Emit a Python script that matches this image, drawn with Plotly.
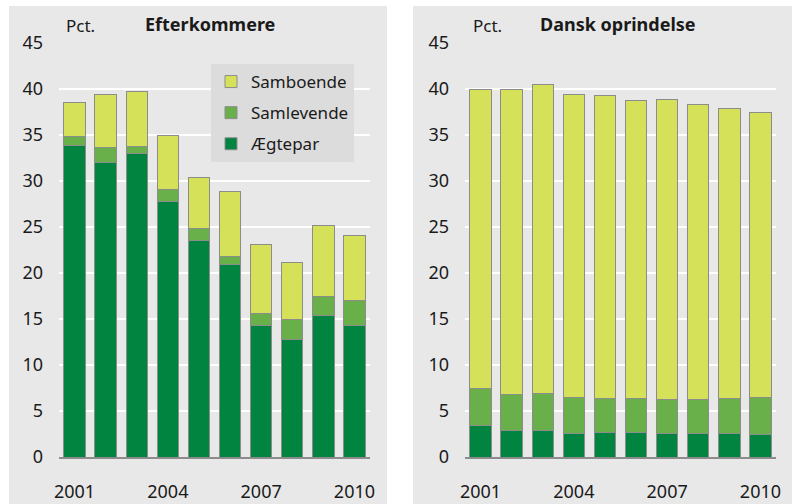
import plotly.graph_objects as go

years = [str(y) for y in range(2001, 2011)]
tick_years = ["2001", "2004", "2007", "2010"]

# Efterkommere
eft_aegtepar = [33.9, 32.0, 33.0, 27.8, 23.5, 20.9, 14.3, 12.8, 15.4, 14.3]
eft_samlevende = [0.9, 1.6, 0.8, 1.3, 1.3, 0.9, 1.3, 2.1, 2.0, 2.7]
eft_samboende = [3.7, 5.8, 5.9, 5.9, 5.6, 7.1, 7.5, 6.2, 7.8, 7.1]

# Dansk oprindelse
dk_aegtepar = [3.4, 2.9, 2.9, 2.6, 2.65, 2.65, 2.6, 2.55, 2.6, 2.45]
dk_samlevende = [4.1, 3.9, 4.0, 3.9, 3.75, 3.75, 3.7, 3.7, 3.8, 4.05]
dk_samboende = [32.5, 33.1, 33.6, 32.9, 32.9, 32.4, 32.6, 32.05, 31.5, 30.9]

y_ticks = [0, 5, 10, 15, 20, 25, 30, 35, 40, 45]

C_AEG = "#00843f"
C_SAML = "#69b04b"
C_SAMB = "#d6e15a"
OUTLINE = "#8c8c8c"
FONT = "Noto Sans"

W, H = 792, 504
def px_x(v):
    return v / W
def px_y(v):
    return 1 - v / H

fig = go.Figure()

series = [("Ægtepar", C_AEG, eft_aegtepar, dk_aegtepar, 3),
          ("Samlevende", C_SAML, eft_samlevende, dk_samlevende, 2),
          ("Samboende", C_SAMB, eft_samboende, dk_samboende, 1)]

for name, col, left_vals, right_vals, rank in series:
    fig.add_trace(go.Bar(x=years, y=left_vals, name=name, legendgroup=name, legendrank=rank,
                         marker=dict(color=col, line=dict(color=OUTLINE, width=1)),
                         xaxis="x", yaxis="y", showlegend=True))
    fig.add_trace(go.Bar(x=years, y=right_vals, name=name, legendgroup=name, legendrank=rank,
                         marker=dict(color=col, line=dict(color=OUTLINE, width=1)),
                         xaxis="x2", yaxis="y2", showlegend=False))

xcommon = dict(type="category", tickmode="array", tickvals=tick_years, ticktext=tick_years,
               showgrid=False, showline=True, linecolor="#8c8c8c", linewidth=2,
               ticks="", ticklabelstandoff=17, range=[-0.5, 9.5], automargin=False,
               tickfont=dict(family=FONT, size=18, color="#1a1a1a"), fixedrange=True)
ycommon = dict(range=[0, 45], tickvals=y_ticks, showgrid=True, gridcolor="white", gridwidth=2,
               zeroline=False, showline=False, ticks="", ticklabelstandoff=15, automargin=False,
               tickfont=dict(family=FONT, size=18, color="#1a1a1a"), fixedrange=True)

y_dom = [px_y(457), px_y(43)]
fig.update_layout(
    width=W, height=H,
    autosize=False,
    margin=dict(l=0, r=0, t=0, b=0, pad=0),
    paper_bgcolor="white",
    plot_bgcolor="#dcdcdc",
    barmode="stack",
    bargap=0.31,
    font=dict(family=FONT, color="#1a1a1a"),
    xaxis=dict(domain=[px_x(59), px_x(370)], anchor="y", **xcommon),
    yaxis=dict(domain=y_dom, anchor="x", **ycommon),
    xaxis2=dict(domain=[px_x(465), px_x(776)], anchor="y2", **xcommon),
    yaxis2=dict(domain=y_dom, anchor="x2", **ycommon),
    legend=dict(x=px_x(211), y=px_y(64), xanchor="left", yanchor="top",
                bgcolor="#dcdcdc", traceorder="grouped", tracegroupgap=6,
                font=dict(family=FONT, size=17, color="#1a1a1a"), itemclick=False),
    showlegend=True,
    shapes=[
        dict(type="rect", xref="paper", yref="paper", x0=px_x(9), x1=px_x(387),
             y0=0, y1=px_y(6), fillcolor="#e8e8e8", line=dict(width=0), layer="below"),
        dict(type="rect", xref="paper", yref="paper", x0=px_x(413), x1=1,
             y0=0, y1=px_y(6), fillcolor="#e8e8e8", line=dict(width=0), layer="below"),
    ],
    annotations=[
        dict(text="Pct.", xref="paper", yref="paper", x=px_x(64), y=px_y(25),
             xanchor="left", yanchor="middle", showarrow=False,
             font=dict(family=FONT, size=17)),
        dict(text="<b>Efterkommere</b>", xref="paper", yref="paper", x=px_x(210), y=px_y(24),
             xanchor="center", yanchor="middle", showarrow=False,
             font=dict(family=FONT, size=18)),
        dict(text="Pct.", xref="paper", yref="paper", x=px_x(471), y=px_y(25),
             xanchor="left", yanchor="middle", showarrow=False,
             font=dict(family=FONT, size=17)),
        dict(text="<b>Dansk oprindelse</b>", xref="paper", yref="paper", x=px_x(618), y=px_y(24),
             xanchor="center", yanchor="middle", showarrow=False,
             font=dict(family=FONT, size=18)),
    ],
)

fig.write_html("out.html", config={"displayModeBar": False},
               post_script="document.body.style.margin='0';document.body.style.overflow='hidden';")
